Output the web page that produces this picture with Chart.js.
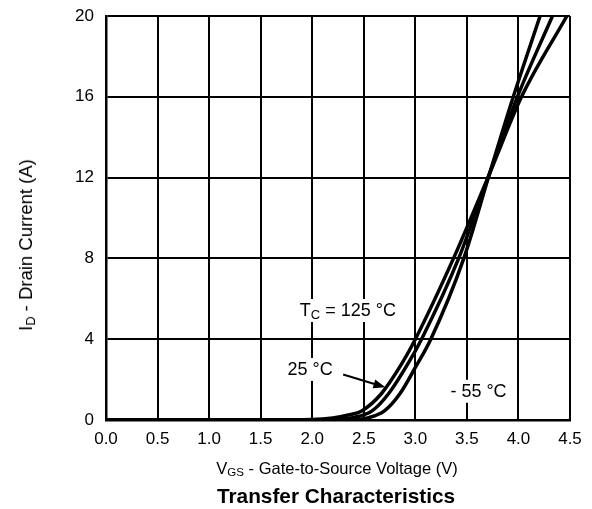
<!DOCTYPE html>
<html>
<head>
<meta charset="utf-8">
<title>Transfer Characteristics</title>
<script src="https://cdn.jsdelivr.net/npm/chart.js@4.4.1/dist/chart.umd.min.js"></script>
<style>
  body { margin: 0; background: #fff; }
  #wrap { position: relative; width: 592px; height: 509px; font-family: "Liberation Sans", Arial, sans-serif; color: #000; }
  #wrap sub { font-size: 70%; vertical-align: -0.25em; line-height: 0; }
  .lbl { position: absolute; white-space: nowrap; font-size: 17px; }
  #ytitle { left: 26px; top: 245px; font-size: 18.5px; transform: translate(-50%, -50%) rotate(-90deg); }
  #xtitle { left: 337px; top: 468px; font-size: 16.5px; transform: translate(-50%, -50%); }
  #caption { left: 336px; top: 496px; transform: translate(-50%, -50%); font-weight: bold; font-size: 20.8px; }
</style>
</head>
<body>
<div id="wrap">
  <canvas id="tc" width="592" height="509"></canvas>
  <div class="lbl" id="ytitle">I<sub>D</sub> - Drain Current (A)</div>
  <div class="lbl" id="xtitle">V<sub>GS</sub> - Gate-to-Source Voltage (V)</div>
  <div class="lbl" id="caption">Transfer Characteristics</div>
</div>
<script>
// values
var vgs125 = [0, 1.5, 2.0, 2.2, 2.35, 2.48, 2.67, 2.87, 3.0, 3.37, 3.72, 4.03, 4.47];
var id125  = [0, 0, 0.02, 0.1, 0.25, 0.45, 1.3, 2.8, 4.0, 8.0, 12.2, 16, 20];

var vgs25 = [0, 1.8, 2.2, 2.4, 2.58, 2.74, 2.93, 3.06, 3.42, 3.72, 3.99, 4.33];
var id25  = [0, 0, 0.02, 0.12, 0.45, 1.3, 2.8, 4.0, 8.0, 12.2, 16, 20];

var vgsM55 = [0, 2.0, 2.4, 2.55, 2.70, 2.85, 3.0, 3.15, 3.47, 3.72, 3.95, 4.21];
var idM55  = [0, 0, 0.02, 0.12, 0.45, 1.3, 2.6, 4.0, 8.0, 12.2, 16, 20];

var xTicks = [0, 0.5, 1, 1.5, 2, 2.5, 3, 3.5, 4, 4.5];
var yTicks = [0, 4, 8, 12, 16, 20];

function pts(xs, ys) {
  var out = [];
  for (var i = 0; i < xs.length; i++) out.push({x: xs[i], y: ys[i]});
  return out;
}

function curve(label, xs, ys) {
  return {
    label: label,
    data: pts(xs, ys),
    showLine: true,
    borderColor: '#000',
    borderWidth: 3.5,
    pointRadius: 0,
    cubicInterpolationMode: 'monotone',
    fill: false
  };
}

// text labels in data coordinates, with white box behind
var notes = {
  id: 'notes',
  beforeDatasetsDraw: function(chart) {
    var ctx = chart.ctx, x = chart.scales.x, y = chart.scales.y;
    function label(parts, vx, vy) {
      var px = x.getPixelForValue(vx), py = y.getPixelForValue(vy);
      ctx.save();
      ctx.textBaseline = 'alphabetic';
      var w = 0;
      parts.forEach(function(p) {
        ctx.font = (p.sub ? 13 : 18) + 'px "Liberation Sans", Arial, sans-serif';
        p.w = ctx.measureText(p.t).width;
        w += p.w;
      });
      ctx.fillStyle = '#fff';
      ctx.fillRect(px - 3, py - 17, w + 6, 23);
      ctx.fillStyle = '#000';
      var cx = px;
      parts.forEach(function(p) {
        ctx.font = (p.sub ? 13 : 18) + 'px "Liberation Sans", Arial, sans-serif';
        ctx.fillText(p.t, cx, p.sub ? py + 3 : py);
        cx += p.w;
      });
      ctx.restore();
    }
    label([{t: 'T'}, {t: 'C', sub: true}, {t: ' = 125 °C'}], 1.88, 5.15);
    label([{t: '25 °C'}], 1.76, 2.23);
    label([{t: '- 55 °C'}], 3.34, 1.15);

    // arrow to the 25 °C curve
    var x0 = x.getPixelForValue(2.30), y0 = y.getPixelForValue(2.25);
    var x1 = x.getPixelForValue(2.71), y1 = y.getPixelForValue(1.62);
    var a = Math.atan2(y1 - y0, x1 - x0);
    ctx.save();
    ctx.strokeStyle = '#000';
    ctx.fillStyle = '#000';
    ctx.lineWidth = 2;
    ctx.beginPath();
    ctx.moveTo(x0, y0);
    ctx.lineTo(x1 - 8 * Math.cos(a), y1 - 8 * Math.sin(a));
    ctx.stroke();
    ctx.beginPath();
    ctx.moveTo(x1, y1);
    ctx.lineTo(x1 - 12 * Math.cos(a) + 4.5 * Math.sin(a), y1 - 12 * Math.sin(a) - 4.5 * Math.cos(a));
    ctx.lineTo(x1 - 12 * Math.cos(a) - 4.5 * Math.sin(a), y1 - 12 * Math.sin(a) + 4.5 * Math.cos(a));
    ctx.closePath();
    ctx.fill();
    ctx.restore();
  }
};

Chart.defaults.font.family = '"Liberation Sans", Arial, sans-serif';
Chart.defaults.font.size = 17;
Chart.defaults.color = '#000';

new Chart(document.getElementById('tc').getContext('2d'), {
  type: 'scatter',
  data: {
    datasets: [
      curve('125 °C', vgs125, id125),
      curve('25 °C', vgs25, id25),
      curve('- 55 °C', vgsM55, idM55)
    ]
  },
  options: {
    responsive: false,
    animation: false,
    layout: { padding: { top: 16, right: 22, left: 0, bottom: 0 } },
    plugins: { legend: { display: false }, tooltip: { enabled: false } },
    scales: {
      x: {
        type: 'linear',
        min: 0, max: 4.5,
        afterBuildTicks: function(s) { s.ticks = xTicks.map(function(v) { return {value: v}; }); },
        afterFit: function(s) { s.height = 89; s.paddingRight = 0; s.paddingLeft = 0; },
        ticks: { padding: 9, maxRotation: 0, callback: function(v) { return v.toFixed(1); } },
        grid: { color: '#000', lineWidth: 2, drawTicks: false },
        border: { color: '#000', width: 2.5 }
      },
      y: {
        min: 0, max: 20,
        afterBuildTicks: function(s) { s.ticks = yTicks.map(function(v) { return {value: v}; }); },
        afterFit: function(s) { s.width = 106; s.paddingTop = 0; s.paddingBottom = 0; },
        ticks: { padding: 12 },
        grid: { color: '#000', lineWidth: 2, drawTicks: false },
        border: { color: '#000', width: 2.5 }
      }
    }
  },
  plugins: [notes]
});
</script>
</body>
</html>
